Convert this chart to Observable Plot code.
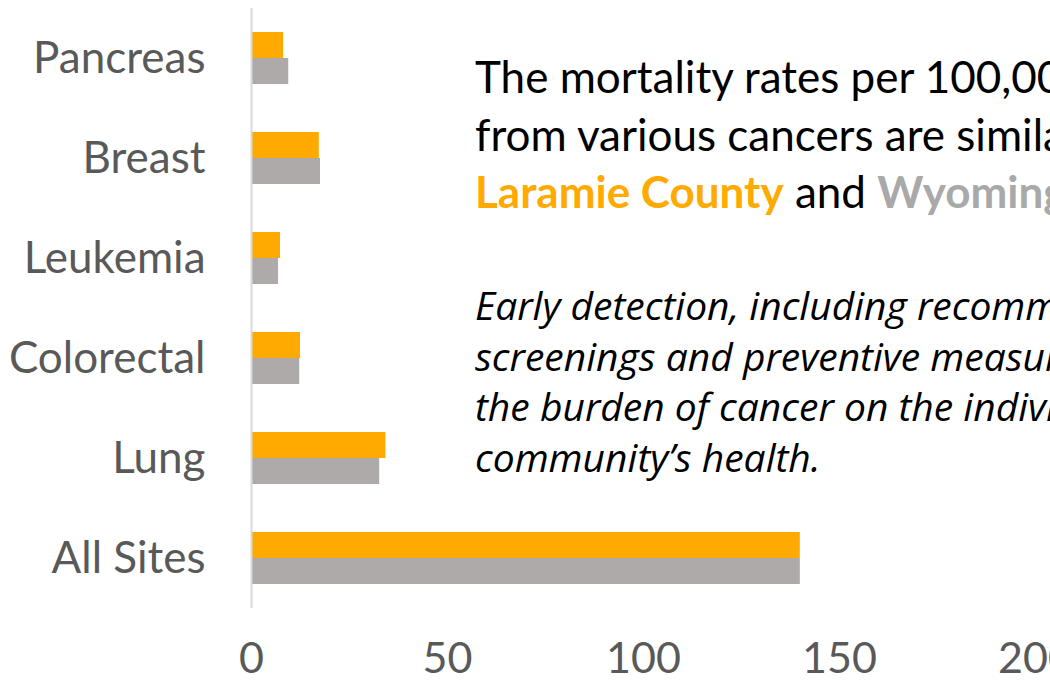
<!DOCTYPE html>
<html><head><meta charset="utf-8">
<script src="https://cdn.jsdelivr.net/npm/d3@7"></script>
<script src="https://cdn.jsdelivr.net/npm/@observablehq/plot@0.6"></script>
<style>
body{margin:0;background:#fff;}
#wrap{position:relative;width:1050px;height:681px;overflow:hidden;}
#note{position:absolute;left:475px;top:0;white-space:nowrap;color:#000;}
#note .main{position:absolute;top:48px;left:0;font-family:Lato,sans-serif;font-size:44px;line-height:57.5px;}
#note .sub{position:absolute;top:280px;left:0;font-family:"Open Sans",sans-serif;font-size:39px;line-height:50.5px;font-style:italic;}
.lc{color:#FFAA00;font-weight:bold;}
.wy{color:#A9A9A9;font-weight:bold;}
</style></head><body>
<div id="wrap"><div id="chart"></div><div id="note"></div></div>
<script>
const categories = ["Pancreas", "Breast", "Leukemia", "Colorectal", "Lung", "All Sites"];
const laramie = [8.2, 17.3, 7.4, 12.5, 34.3, 140];
const wyoming = [9.5, 17.6, 6.9, 12.3, 32.7, 140];
const xTicks = [0, 50, 100, 150, 200];
const seriesNames = ["Laramie County", "Wyoming"];
const seriesColors = ["#FFAA00", "#AEAAAA"];
const mainLines = ["The mortality rates per 100,000 residents", "from various cancers are similar in"];
const subLines = ["Early detection, including recommended cancer", "screenings and preventive measures, can reduce", "the burden of cancer on the individual and the", "community\u2019s health."];

const rows = [];
categories.forEach((c, i) => {
  rows.push({category: c, series: seriesNames[0], value: laramie[i]});
  rows.push({category: c, series: seriesNames[1], value: wyoming[i]});
});

const chart = Plot.plot({
  width: 1050,
  height: 681,
  marginLeft: 251,
  marginRight: 15,
  marginTop: 8,
  marginBottom: 73,
  style: {fontFamily: "Lato, sans-serif", color: "#595959", background: "#fff"},
  x: {domain: [0, 200]},
  y: {domain: categories, padding: 0},
  color: {domain: seriesNames, range: seriesColors},
  marks: [
    Plot.barX(rows.filter(d => d.series === seriesNames[0]), {x: "value", y: "category", fill: "series", insetTop: 24, insetBottom: 50}),
    Plot.barX(rows.filter(d => d.series === seriesNames[1]), {x: "value", y: "category", fill: "series", insetTop: 50, insetBottom: 24}),
    Plot.ruleX([0], {stroke: "#d9d9d9", strokeWidth: 2}),
    Plot.axisY({tickSize: 0, tickPadding: 46, fontSize: 44, label: null}),
    Plot.axisX({ticks: xTicks, tickSize: 0, tickPadding: 34, fontSize: 43, label: null})
  ]
});
document.getElementById("chart").appendChild(chart);

const note = document.getElementById("note");
const main = document.createElement("div");
main.className = "main";
main.innerHTML = mainLines.join("<br>") + `<br><span class="lc">${seriesNames[0]}</span> and <span class="wy">${seriesNames[1]}</span>.`;
const sub = document.createElement("div");
sub.className = "sub";
sub.innerHTML = subLines.join("<br>");
note.appendChild(main);
note.appendChild(sub);
</script>
</body></html>
